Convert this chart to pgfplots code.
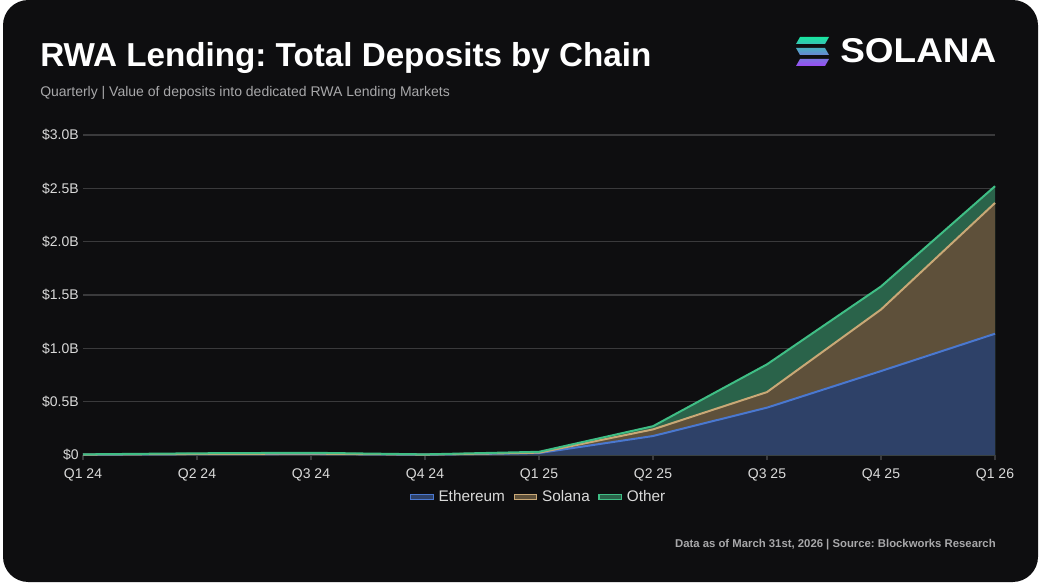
\documentclass[border=0pt]{standalone}
\usepackage{pgfplots}
\pgfplotsset{compat=1.18}
\usepackage{fontspec}
\setmainfont{Liberation Sans}
\usepackage{graphicx}
\frenchspacing
\definecolor{bg}{HTML}{0E0E10}
\definecolor{ethline}{HTML}{4A78D0}
\definecolor{ethfill}{HTML}{2E4168}
\definecolor{solline}{HTML}{C9A876}
\definecolor{solfill}{HTML}{5E503A}
\definecolor{othline}{HTML}{3FBE85}
\definecolor{othfill}{HTML}{2A634A}
\definecolor{gridc}{HTML}{3A3A3C}
\definecolor{tickc}{HTML}{DADADA}
\definecolor{subc}{HTML}{A8A8AA}
\definecolor{solteal}{HTML}{19E6A0}
\definecolor{solpurple}{HTML}{9B4BF5}
\pgfplotstableread{
x eth sol tot
0 0.003 0.004 0.006
1 0.008 0.010 0.016
2 0.010 0.013 0.021
3 0.003 0.004 0.006
4 0.018 0.022 0.030
5 0.178 0.240 0.270
6 0.444 0.590 0.850
7 0.787 1.364 1.580
8 1.137 2.363 2.520
}\data
\begin{document}
\begin{tikzpicture}
\begin{scope}[x=0.75pt,y=-0.75pt]
\fill[white] (0,0) rectangle (1041,585);
\fill[bg, rounded corners=19pt] (3,0) rectangle (1038,582);
\node[anchor=base west, inner sep=0pt, text=white, font=\fontsize{24.9}{30}\selectfont\bfseries] at (40,67) {RWA Lending: Total Deposits by Chain};
\node[anchor=base west, inner sep=0pt, text=subc, font=\fontsize{10.5}{12}\selectfont] at (40,96) {Quarterly | Value of deposits into dedicated RWA Lending Markets};
\node[anchor=base east, inner sep=0pt, text=subc, font=\fontsize{8.5}{10}\selectfont\bfseries] at (996,547) {Data as of March 31st, 2026 | Source: Blockworks Research};
% logo
\shade[top color=solteal, bottom color=solpurple]
  (800,37) -- (829,37) -- (825,44) -- (796,44) -- cycle
  (796,48) -- (825,48) -- (829,55) -- (800,55) -- cycle
  (800,59) -- (829,59) -- (825,66) -- (796,66) -- cycle;
\node[anchor=west, inner sep=0pt, text=white] at (840,50.5) {\resizebox{117pt}{18pt}{\bfseries SOLANA}};
\end{scope}
\begin{axis}[
  at={(62.25pt,-341.25pt)}, anchor=south west,
  scale only axis, width=684pt, height=240pt,
  xmin=0, xmax=8, ymin=0, ymax=3,
  axis x line*=bottom, axis y line*=left,
  x axis line style={draw=gridc, line width=0.8pt},
  y axis line style={draw=none},
  xtick={0,...,8},
  xticklabels={Q1 24,Q2 24,Q3 24,Q4 24,Q1 25,Q2 25,Q3 25,Q4 25,Q1 26},
  ytick={0,0.5,1,1.5,2,2.5,3},
  yticklabels={\$0,\$0.5B,\$1.0B,\$1.5B,\$2.0B,\$2.5B,\$3.0B},
  tick align=outside,
  xtick style={draw=gridc, line width=0.8pt},
  ytick style={draw=none},
  major tick length=4pt,
  ymajorgrids, grid style={draw=gridc, line width=0.8pt},
  ticklabel style={text=tickc, font=\fontsize{10.5}{12}\selectfont},
  yticklabel style={inner sep=1pt, xshift=2pt},
  xticklabel style={yshift=-2.5pt},
  clip=false,
  legend columns=3,
  legend style={at={(0.5,0)}, anchor=center, yshift=-31.5pt, draw=none, fill=none,
    text=tickc, font=\fontsize{11.5}{13}\selectfont,
    /tikz/every odd column/.append style={column sep=1.5pt},
    /tikz/every even column/.append style={column sep=4.5pt}},
]
\addplot[draw=none, fill=othfill, forget plot] table[x=x,y=tot] {\data} \closedcycle;
\addplot[draw=none, fill=solfill, forget plot] table[x=x,y=sol] {\data} \closedcycle;
\addplot[draw=none, fill=ethfill, forget plot] table[x=x,y=eth] {\data} \closedcycle;
\addplot[ethline, line width=1.5pt,
  legend image code/.code={\draw[draw=ethline, fill=ethfill, line width=0.8pt] (0pt,-2pt) rectangle (17pt,2pt);}]
  table[x=x,y=eth] {\data};
\addlegendentry{Ethereum}
\addplot[solline, line width=1.5pt,
  legend image code/.code={\draw[draw=solline, fill=solfill, line width=0.8pt] (0pt,-2pt) rectangle (17pt,2pt);}]
  table[x=x,y=sol] {\data};
\addlegendentry{Solana}
\addplot[othline, line width=1.5pt,
  legend image code/.code={\draw[draw=othline, fill=othfill, line width=0.8pt] (0pt,-2pt) rectangle (17pt,2pt);}]
  table[x=x,y=tot] {\data};
\addlegendentry{Other}
\end{axis}
\end{tikzpicture}
\end{document}
